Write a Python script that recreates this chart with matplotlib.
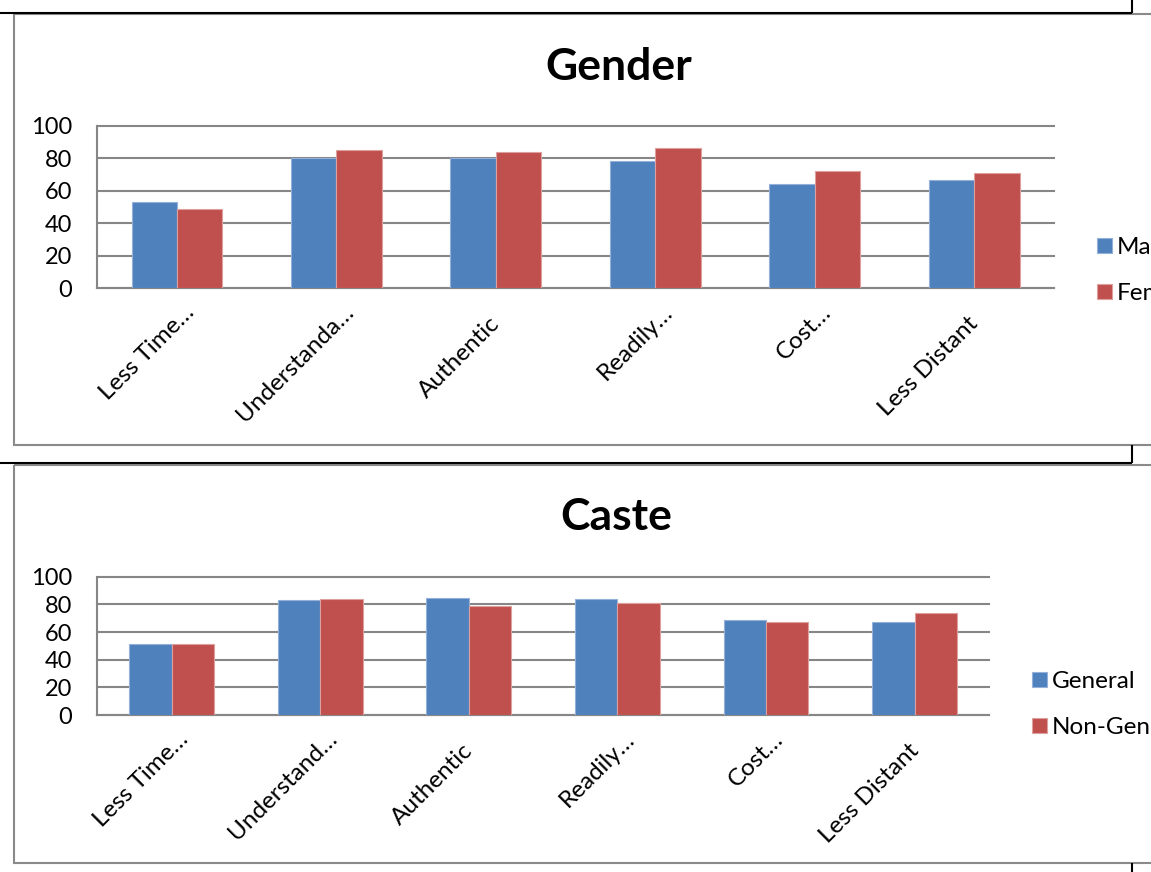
import matplotlib
matplotlib.use("Agg")
import matplotlib.pyplot as plt
from matplotlib.patches import Rectangle
from matplotlib.transforms import ScaledTranslation
import numpy as np

# ---- data -------------------------------------------------------------
gender_categories = ["Less Time…", "Understanda…", "Authentic", "Readily…", "Cost…", "Less Distant"]
male = [53, 80.5, 80.5, 78.5, 64, 66.5]
female = [49, 85.5, 84, 86.5, 72, 71]

caste_categories = ["Less Time…", "Understand…", "Authentic", "Readily…", "Cost…", "Less Distant"]
general = [51, 83, 84.5, 84, 69, 67]
non_general = [51, 84, 79, 81, 67.5, 73.5]

y_ticks = [0, 20, 40, 60, 80, 100]

# ---- styling ----------------------------------------------------------
W, H = 1151, 872
BLUE, RED = "#4F81BD", "#C0504D"
GRID = "#868686"
FRAME = "#8a8a8a"
FS_Y = 17
FS_X = 17.5
FS_LEG = 17.5

plt.rcParams["font.family"] = ["Lato", "DejaVu Sans"]
fig = plt.figure(figsize=(W / 100, H / 100), dpi=100)
fig.patch.set_facecolor("white")


def rect_px(left, top, right, bottom):
    return [left / W, 1 - bottom / H, (right - left) / W, (bottom - top) / H]


# page rules and chart frames, drawn in pixel space
bg = fig.add_axes([0, 0, 1, 1], zorder=-5)
bg.set_xlim(0, W)
bg.set_ylim(H, 0)
bg.axis("off")
bg.add_patch(Rectangle((14.5, 14.5), 1300, 430.5, fill=False, ec=FRAME, lw=1.5))
bg.add_patch(Rectangle((14.5, 464.5), 1300, 398.5, fill=False, ec=FRAME, lw=1.5))
for xs, ys in [([0, 1132], [13, 13]), ([1132, 1132], [0, 13]),
               ([0, 1132], [463, 463]), ([1132, 1132], [445, 463]),
               ([1132, 1132], [863, 872])]:
    bg.plot(xs, ys, color="black", lw=1.5, solid_capstyle="butt")

# nudges (px) for the rotated category labels: shortened labels sit
# higher and further right than the ones shown in full
NUDGE_SHORT = (18, 25)
NUDGE_FULL = (5, 37)


def draw_chart(box, title, title_xy, cats, s1, s2, names, legend_xy):
    ax = fig.add_axes(rect_px(*box))
    x = np.arange(len(cats))
    w = 0.285
    ax.bar(x - w / 2, s1, w, color=BLUE, edgecolor="#93B1D9", linewidth=0.8,
           label=names[0], zorder=3)
    ax.bar(x + w / 2, s2, w, color=RED, edgecolor="#DDA09E", linewidth=0.8,
           label=names[1], zorder=3)
    ax.set_xlim(-0.5, len(cats) - 0.5)
    ax.set_ylim(0, 100)
    ax.set_yticks(y_ticks)
    ax.yaxis.grid(True, color=GRID, lw=1.5)
    for gl in ax.get_ygridlines():
        gl.set_clip_on(False)
    ax.set_axisbelow(True)
    for side in ("top", "right"):
        ax.spines[side].set_visible(False)
    for side in ("left", "bottom"):
        ax.spines[side].set_color(GRID)
        ax.spines[side].set_linewidth(1.5)
    ax.tick_params(axis="y", length=0, labelsize=FS_Y, pad=18)
    ax.tick_params(axis="x", length=0, labelsize=FS_X, pad=0)
    ax.set_xticks(x)
    ax.set_xticklabels(cats, rotation=45, ha="right", va="baseline",
                       rotation_mode="anchor")
    for lbl in ax.get_xticklabels():
        dx, dy = NUDGE_SHORT if lbl.get_text().endswith("…") else NUDGE_FULL
        lbl.set_transform(lbl.get_transform() +
                          ScaledTranslation(dx / 100, -dy / 100, fig.dpi_scale_trans))

    fig.text(title_xy[0] / W, 1 - title_xy[1] / H, title, ha="center", va="center",
             fontsize=32, fontweight="bold")

    handles, labels = ax.get_legend_handles_labels()
    fig.legend(handles, labels, loc="upper left",
               bbox_to_anchor=(legend_xy[0] / W, 1 - legend_xy[1] / H),
               frameon=False, fontsize=FS_LEG, handlelength=0.62, handleheight=0.62,
               handletextpad=0.2, labelspacing=1.03, borderpad=0, borderaxespad=0)
    return ax


draw_chart((97.3, 126, 1054, 288.3), "Gender", (619, 67),
           gender_categories, male, female, ["Male", "Female"], (1097, 237))
draw_chart((97.3, 576.7, 989, 715), "Caste", (616, 517),
           caste_categories, general, non_general, ["General", "Non-General"], (1032, 671))

fig.savefig("out.png", dpi=100, facecolor="white")
